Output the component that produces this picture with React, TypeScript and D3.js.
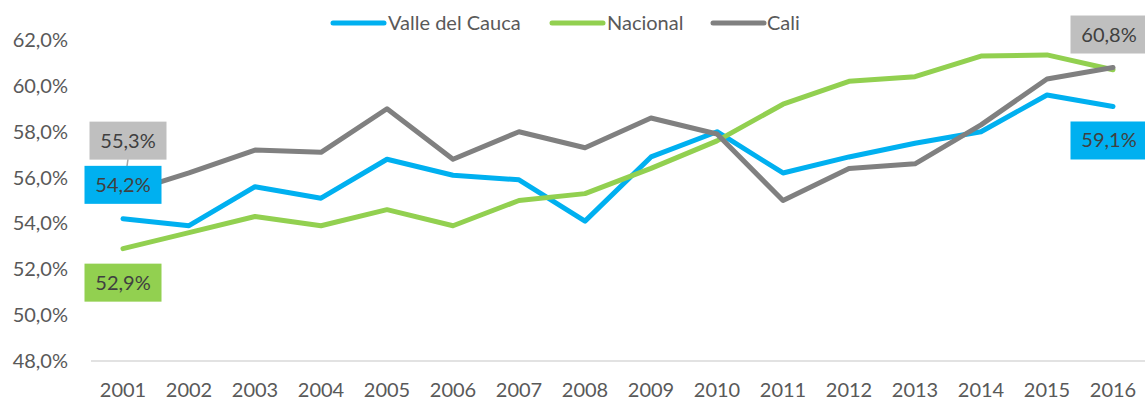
import * as d3 from 'd3'

const years = ['2001', '2002', '2003', '2004', '2005', '2006', '2007', '2008', '2009', '2010', '2011', '2012', '2013', '2014', '2015', '2016']
const valle = [54.2, 53.9, 55.6, 55.1, 56.8, 56.1, 55.9, 54.1, 56.9, 58.0, 56.2, 56.9, 57.5, 58.0, 59.6, 59.1]
const nacional = [52.9, 53.6, 54.3, 53.9, 54.6, 53.9, 55.0, 55.3, 56.4, 57.6, 59.2, 60.2, 60.4, 61.3, 61.35, 60.7]
const cali = [55.3, 56.2, 57.2, 57.1, 59.0, 56.8, 58.0, 57.3, 58.6, 57.9, 55.0, 56.4, 56.6, 58.3, 60.3, 60.8]
const yTicks = [48, 50, 52, 54, 56, 58, 60, 62]

const W = 1145
const H = 403
const FONT = 'Lato, "Open Sans", sans-serif'

const series = [
  { name: 'Valle del Cauca', values: valle, color: '#00B0F0' },
  { name: 'Nacional', values: nacional, color: '#92D050' },
  { name: 'Cali', values: cali, color: '#808080' },
]

// data labels: which series / year, and where the box sits relative to the point
const labels = [
  { s: 2, i: 0, dx: 5, dy: -53, leader: true },
  { s: 0, i: 0, dx: 0, dy: -34 },
  { s: 1, i: 0, dx: 0, dy: 34 },
  { s: 2, i: 15, dx: -4, dy: -33 },
  { s: 0, i: 15, dx: -4, dy: 34 },
]

const fmt = (v: number) => v.toFixed(1).replace('.', ',') + '%'

export default function App() {
  const x = d3.scaleBand<string>().domain(years).range([90, 1146])
  const y = d3.scaleLinear().domain([48, 62]).range([361, 40])
  const cx = (i: number) => (x(years[i]) ?? 0) + x.bandwidth() / 2

  const line = d3
    .line<number>()
    .x((_, i) => cx(i))
    .y((d) => y(d))

  const legend = [
    { x0: 333, tx: 388 },
    { x0: 552, tx: 607 },
    { x0: 713, tx: 767 },
  ]

  return (
    <svg width={W} height={H} style={{ position: 'absolute', left: 0, top: 0, background: '#fff' }} fontFamily={FONT}>
      <line x1={91} x2={W} y1={y(48)} y2={y(48)} stroke="#D9D9D9" strokeWidth={1.5} />
      {yTicks.map((t) => (
        <text key={t} x={68} y={y(t)} dy="0.35em" textAnchor="end" fontSize={20} fill="#595959">
          {fmt(t)}
        </text>
      ))}
      {years.map((yr) => (
        <text key={yr} x={(x(yr) ?? 0) + x.bandwidth() / 2} y={390} dy="0.35em" textAnchor="middle" fontSize={20} fill="#595959">
          {yr}
        </text>
      ))}
      {series.map((s) => (
        <path key={s.name} d={line(s.values) ?? ''} fill="none" stroke={s.color} strokeWidth={5} strokeLinejoin="round" strokeLinecap="round" />
      ))}
      {series.map((s, k) => (
        <g key={s.name}>
          <line x1={legend[k].x0} x2={legend[k].x0 + 51} y1={23} y2={23} stroke={s.color} strokeWidth={5} strokeLinecap="round" />
          <text x={legend[k].tx} y={23} dy="0.35em" fontSize={20} fill="#595959">
            {s.name}
          </text>
        </g>
      ))}
      {labels.map((l, k) => {
        const s = series[l.s]
        const px = cx(l.i)
        const py = y(s.values[l.i])
        const bx = px + l.dx
        const by = py + l.dy
        return (
          <g key={k}>
            {l.leader && <line x1={bx} y1={by + 18.5} x2={px} y2={py} stroke="#A6A6A6" strokeWidth={1.5} />}
            <rect x={bx - 38.5} y={by - 19} width={77} height={38} fill={s.color === '#808080' ? '#BFBFBF' : s.color} />
            <text x={bx} y={by} dy="0.35em" textAnchor="middle" fontSize={20} fill="#404040">
              {fmt(s.values[l.i])}
            </text>
          </g>
        )
      })}
    </svg>
  )
}
